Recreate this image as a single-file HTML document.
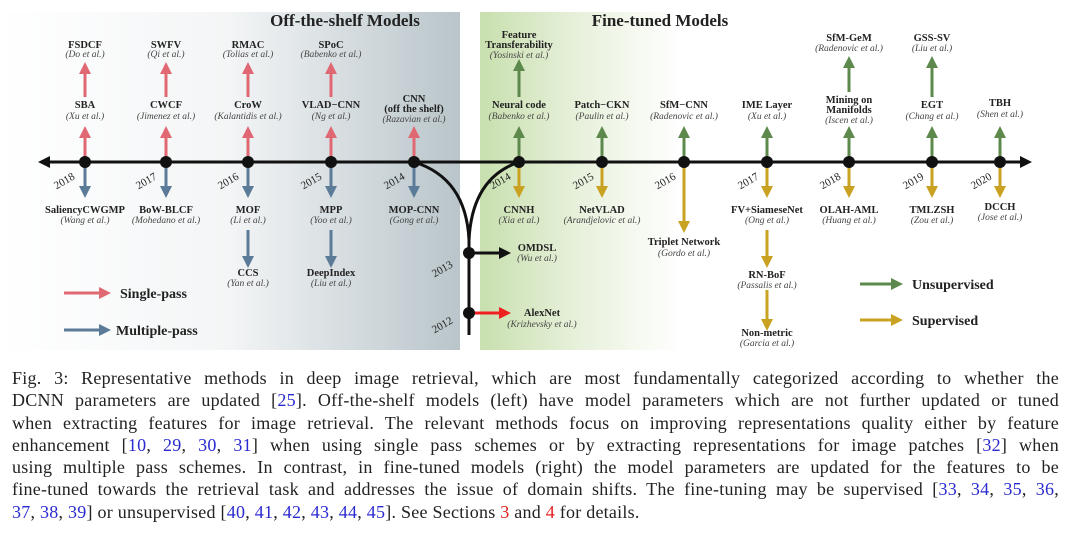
<!DOCTYPE html>
<html><head><meta charset="utf-8"><style>
html,body{margin:0;padding:0;background:#fff;width:1080px;height:533px;overflow:hidden}
svg{position:absolute;left:0;top:0}
.n{font:bold 10.5px "Liberation Serif",serif;fill:#222;text-anchor:middle}
.a{font:italic 9.5px "Liberation Serif",serif;fill:#444;text-anchor:middle}
.y{font:11px "Liberation Serif",serif;fill:#222;text-anchor:middle}
.t{font:bold 17px "Liberation Serif",serif;fill:#222;text-anchor:middle}
.l{font:bold 14px "Liberation Serif",serif;fill:#222}
#cap{position:absolute;left:12px;top:367px;width:1047px;font:18px/22.3px "Liberation Serif",serif;letter-spacing:0.25px;color:#222}
#cap div{text-align:justify;text-align-last:justify;white-space:nowrap;height:22.3px}
#cap div.last{text-align-last:left}
b{font-weight:normal;color:#2a2ad0}
i{font-style:normal;color:#e02020}
</style></head><body>
<svg width="1080" height="360" viewBox="0 0 1080 360">
<defs>
<linearGradient id="g1" x1="0" x2="1"><stop offset="0" stop-color="#fff"/><stop offset="0.5" stop-color="#f3f5f6"/><stop offset="1" stop-color="#b9c5ca"/></linearGradient>
<linearGradient id="g2" x1="0" x2="1"><stop offset="0" stop-color="#c8dfae"/><stop offset="0.5" stop-color="#e8f1dc"/><stop offset="1" stop-color="#fff"/></linearGradient>
<marker id="mr" markerWidth="4" markerHeight="4" refX="2" refY="2" orient="auto" markerUnits="strokeWidth"><path d="M0,0L4,2L0,4z" fill="#e06873"/></marker>
<marker id="mb" markerWidth="4" markerHeight="4" refX="2" refY="2" orient="auto" markerUnits="strokeWidth"><path d="M0,0L4,2L0,4z" fill="#5b7b98"/></marker>
<marker id="mg" markerWidth="4" markerHeight="4" refX="2" refY="2" orient="auto" markerUnits="strokeWidth"><path d="M0,0L4,2L0,4z" fill="#5d8a4c"/></marker>
<marker id="my" markerWidth="4" markerHeight="4" refX="2" refY="2" orient="auto" markerUnits="strokeWidth"><path d="M0,0L4,2L0,4z" fill="#c9a222"/></marker>
<marker id="mk" markerWidth="4" markerHeight="4" refX="2" refY="2" orient="auto" markerUnits="strokeWidth"><path d="M0,0L4,2L0,4z" fill="#111"/></marker>
<marker id="mrr" markerWidth="4" markerHeight="4" refX="2" refY="2" orient="auto" markerUnits="strokeWidth"><path d="M0,0L4,2L0,4z" fill="#f02020"/></marker>
</defs>
<rect x="0" y="12" width="460" height="338" fill="url(#g1)"/>
<rect x="480" y="12" width="200" height="338" fill="url(#g2)"/>
<text class="t" x="345" y="26">Off-the-shelf Models</text>
<text class="t" x="660" y="26">Fine-tuned Models</text>

<g stroke-width="3" fill="none">
<g stroke="#e06873" marker-end="url(#mr)">
<path d="M85,162V132"/><path d="M166,162V132"/><path d="M248,162V132"/><path d="M331,162V132"/><path d="M414,162V132"/>
<path d="M85,97V68"/><path d="M166,97V68"/><path d="M248,97V68"/><path d="M331,97V68"/>
<path d="M64,293H105"/>
</g>
<g stroke="#5b7b98" marker-end="url(#mb)">
<path d="M85,162V192"/><path d="M166,162V192"/><path d="M248,162V192"/><path d="M331,162V192"/><path d="M414,162V192"/>
<path d="M248,230V262"/><path d="M331,230V262"/>
<path d="M64,330H105"/>
</g>
<g stroke="#5d8a4c" marker-end="url(#mg)">
<path d="M519,162V132"/><path d="M602,162V132"/><path d="M684,162V132"/><path d="M767,162V132"/><path d="M849,162V132"/><path d="M932,162V132"/><path d="M1000,162V132"/>
<path d="M519,97V65"/><path d="M849,92V62"/><path d="M932,97V62"/>
<path d="M860,284H897"/>
</g>
<g stroke="#c9a222" marker-end="url(#my)">
<path d="M519,162V192"/><path d="M602,162V192"/><path d="M684,162V227"/><path d="M767,162V192"/><path d="M849,162V192"/><path d="M932,162V192"/><path d="M1000,162V192"/>
<path d="M767,230V262"/><path d="M767,290V325"/>
<path d="M860,320H897"/>
</g>
<path d="M44,162H1026" stroke="#111" marker-end="url(#mk)"/>
<path d="M60,162H44" stroke="#111" marker-end="url(#mk)"/>
<path d="M414,162Q466,178 469,240M519,162Q472,178 469,240M469,240V335" stroke="#111"/>
<path d="M469,253H505" stroke="#111" marker-end="url(#mk)"/>
<path d="M469,313H505" stroke="#f02020" marker-end="url(#mrr)"/>
</g>
<g fill="#111">
<circle cx="85" cy="162" r="6"/><circle cx="166" cy="162" r="6"/><circle cx="248" cy="162" r="6"/><circle cx="331" cy="162" r="6"/><circle cx="414" cy="162" r="6"/>
<circle cx="519" cy="162" r="6"/><circle cx="602" cy="162" r="6"/><circle cx="684" cy="162" r="6"/><circle cx="767" cy="162" r="6"/><circle cx="849" cy="162" r="6"/><circle cx="932" cy="162" r="6"/><circle cx="1000" cy="162" r="6"/>
<circle cx="469" cy="253" r="6"/><circle cx="469" cy="313" r="6"/>
</g>
<g class="y">
<text transform="translate(66,184) rotate(-30)">2018</text>
<text transform="translate(148,184) rotate(-30)">2017</text>
<text transform="translate(230,184) rotate(-30)">2016</text>
<text transform="translate(313,184) rotate(-30)">2015</text>
<text transform="translate(396,184) rotate(-30)">2014</text>
<text transform="translate(502,184) rotate(-30)">2014</text>
<text transform="translate(585,184) rotate(-30)">2015</text>
<text transform="translate(667,184) rotate(-30)">2016</text>
<text transform="translate(750,184) rotate(-30)">2017</text>
<text transform="translate(832,184) rotate(-30)">2018</text>
<text transform="translate(915,184) rotate(-30)">2019</text>
<text transform="translate(983,184) rotate(-30)">2020</text>
<text transform="translate(444,272) rotate(-30)">2013</text>
<text transform="translate(444,328) rotate(-30)">2012</text>
</g>
<text class="n" x="85" y="48">FSDCF</text><text class="a" x="85" y="57">(Do et al.)</text>
<text class="n" x="166" y="48">SWFV</text><text class="a" x="166" y="57">(Qi et al.)</text>
<text class="n" x="248" y="48">RMAC</text><text class="a" x="248" y="57">(Tolias et al.)</text>
<text class="n" x="331" y="48">SPoC</text><text class="a" x="331" y="57">(Babenko et al.)</text>
<text class="n" x="85" y="108">SBA</text><text class="a" x="85" y="119">(Xu et al.)</text>
<text class="n" x="166" y="108">CWCF</text><text class="a" x="166" y="119">(Jimenez et al.)</text>
<text class="n" x="248" y="108">CroW</text><text class="a" x="248" y="119">(Kalantidis et al.)</text>
<text class="n" x="331" y="108">VLAD−CNN</text><text class="a" x="331" y="119">(Ng et al.)</text>
<text class="n" x="414" y="102">CNN</text><text class="n" x="414" y="112">(off the shelf)</text><text class="a" x="414" y="122">(Razavian et al.)</text>
<text class="n" x="85" y="213">SaliencyCWGMP</text><text class="a" x="85" y="223">(Wang et al.)</text>
<text class="n" x="166" y="213">BoW-BLCF</text><text class="a" x="166" y="223">(Mohedano et al.)</text>
<text class="n" x="248" y="213">MOF</text><text class="a" x="248" y="223">(Li et al.)</text>
<text class="n" x="331" y="213">MPP</text><text class="a" x="331" y="223">(Yoo et al.)</text>
<text class="n" x="414" y="213">MOP-CNN</text><text class="a" x="414" y="223">(Gong et al.)</text>
<text class="n" x="248" y="276">CCS</text><text class="a" x="248" y="286">(Yan et al.)</text>
<text class="n" x="331" y="276">DeepIndex</text><text class="a" x="331" y="286">(Liu et al.)</text>
<text class="l" x="120" y="298">Single-pass</text>
<text class="l" x="116" y="335">Multiple-pass</text>
<text class="n" x="519" y="38">Feature</text><text class="n" x="519" y="48">Transferability</text><text class="a" x="519" y="58">(Yosinski et al.)</text>
<text class="n" x="849" y="41">SfM-GeM</text><text class="a" x="849" y="51">(Radenovic et al.)</text>
<text class="n" x="932" y="41">GSS-SV</text><text class="a" x="932" y="51">(Liu et al.)</text>
<text class="n" x="519" y="108">Neural code</text><text class="a" x="519" y="119">(Babenko et al.)</text>
<text class="n" x="602" y="108">Patch−CKN</text><text class="a" x="602" y="119">(Paulin et al.)</text>
<text class="n" x="684" y="108">SfM−CNN</text><text class="a" x="684" y="119">(Radenovic et al.)</text>
<text class="n" x="767" y="108">IME Layer</text><text class="a" x="767" y="119">(Xu et al.)</text>
<text class="n" x="849" y="103">Mining on</text><text class="n" x="849" y="113">Manifolds</text><text class="a" x="849" y="123">(Iscen et al.)</text>
<text class="n" x="932" y="108">EGT</text><text class="a" x="932" y="119">(Chang et al.)</text>
<text class="n" x="1000" y="106">TBH</text><text class="a" x="1000" y="117">(Shen et al.)</text>
<text class="n" x="519" y="213">CNNH</text><text class="a" x="519" y="223">(Xia et al.)</text>
<text class="n" x="602" y="213">NetVLAD</text><text class="a" x="602" y="223">(Arandjelovic et al.)</text>
<text class="n" x="684" y="245">Triplet Network</text><text class="a" x="684" y="256">(Gordo et al.)</text>
<text class="n" x="767" y="213">FV+SiameseNet</text><text class="a" x="767" y="223">(Ong et al.)</text>
<text class="n" x="849" y="213">OLAH-AML</text><text class="a" x="849" y="223">(Huang et al.)</text>
<text class="n" x="932" y="213">TMLZSH</text><text class="a" x="932" y="223">(Zou et al.)</text>
<text class="n" x="1000" y="210">DCCH</text><text class="a" x="1000" y="220">(Jose et al.)</text>
<text class="n" x="767" y="278">RN-BoF</text><text class="a" x="767" y="288">(Passalis et al.)</text>
<text class="n" x="767" y="336">Non-metric</text><text class="a" x="767" y="346">(Garcia et al.)</text>
<text class="n" x="537" y="251">OMDSL</text><text class="a" x="537" y="261">(Wu et al.)</text>
<text class="n" x="542" y="316">AlexNet</text><text class="a" x="542" y="327">(Krizhevsky et al.)</text>
<text class="l" x="912" y="289">Unsupervised</text>
<text class="l" x="912" y="325">Supervised</text>
</svg>
<div id="cap">
<div>Fig. 3: Representative methods in deep image retrieval, which are most fundamentally categorized according to whether the</div>
<div>DCNN parameters are updated [<b>25</b>]. Off-the-shelf models (left) have model parameters which are not further updated or tuned</div>
<div>when extracting features for image retrieval. The relevant methods focus on improving representations quality either by feature</div>
<div>enhancement [<b>10</b>, <b>29</b>, <b>30</b>, <b>31</b>] when using single pass schemes or by extracting representations for image patches [<b>32</b>] when</div>
<div>using multiple pass schemes. In contrast, in fine-tuned models (right) the model parameters are updated for the features to be</div>
<div>fine-tuned towards the retrieval task and addresses the issue of domain shifts. The fine-tuning may be supervised [<b>33</b>, <b>34</b>, <b>35</b>, <b>36</b>,</div>
<div class="last"><b>37</b>, <b>38</b>, <b>39</b>] or unsupervised [<b>40</b>, <b>41</b>, <b>42</b>, <b>43</b>, <b>44</b>, <b>45</b>]. See Sections <i>3</i> and <i>4</i> for details.</div>
</div>
</body></html>
